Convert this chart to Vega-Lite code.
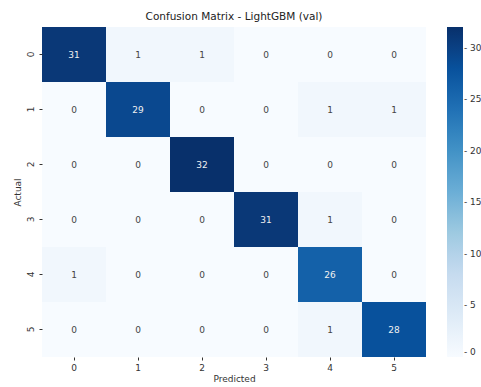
{
  "$schema": "https://vega.github.io/schema/vega-lite/v6.json",
  "autosize": "none",
  "padding": {"left": 42, "top": 27, "right": 55, "bottom": 30},
  "width": 384,
  "height": 330,
  "background": "white",
  "config": {
    "font": "DejaVu Sans",
    "view": {"stroke": null},
    "axis": {"grid": false, "domain": false, "tickSize": 3, "tickColor": "#333", "labelColor": "#333", "labelFontSize": 9, "titleFontSize": 9, "titleFontWeight": "normal", "titleColor": "#333"}
  },
  "title": {"text": "Confusion Matrix - LightGBM (val)", "fontSize": 10.5, "fontWeight": "normal", "color": "#222", "offset": 5},
  "data": {
    "values": [
      {"actual": "0", "predicted": "0", "count": 31},
      {"actual": "0", "predicted": "1", "count": 1},
      {"actual": "0", "predicted": "2", "count": 1},
      {"actual": "0", "predicted": "3", "count": 0},
      {"actual": "0", "predicted": "4", "count": 0},
      {"actual": "0", "predicted": "5", "count": 0},
      {"actual": "1", "predicted": "0", "count": 0},
      {"actual": "1", "predicted": "1", "count": 29},
      {"actual": "1", "predicted": "2", "count": 0},
      {"actual": "1", "predicted": "3", "count": 0},
      {"actual": "1", "predicted": "4", "count": 1},
      {"actual": "1", "predicted": "5", "count": 1},
      {"actual": "2", "predicted": "0", "count": 0},
      {"actual": "2", "predicted": "1", "count": 0},
      {"actual": "2", "predicted": "2", "count": 32},
      {"actual": "2", "predicted": "3", "count": 0},
      {"actual": "2", "predicted": "4", "count": 0},
      {"actual": "2", "predicted": "5", "count": 0},
      {"actual": "3", "predicted": "0", "count": 0},
      {"actual": "3", "predicted": "1", "count": 0},
      {"actual": "3", "predicted": "2", "count": 0},
      {"actual": "3", "predicted": "3", "count": 31},
      {"actual": "3", "predicted": "4", "count": 1},
      {"actual": "3", "predicted": "5", "count": 0},
      {"actual": "4", "predicted": "0", "count": 1},
      {"actual": "4", "predicted": "1", "count": 0},
      {"actual": "4", "predicted": "2", "count": 0},
      {"actual": "4", "predicted": "3", "count": 0},
      {"actual": "4", "predicted": "4", "count": 26},
      {"actual": "4", "predicted": "5", "count": 0},
      {"actual": "5", "predicted": "0", "count": 0},
      {"actual": "5", "predicted": "1", "count": 0},
      {"actual": "5", "predicted": "2", "count": 0},
      {"actual": "5", "predicted": "3", "count": 0},
      {"actual": "5", "predicted": "4", "count": 1},
      {"actual": "5", "predicted": "5", "count": 28}
    ]
  },
  "encoding": {
    "x": {"field": "predicted", "type": "ordinal", "title": "Predicted", "scale": {"paddingInner": 0, "paddingOuter": 0},
      "axis": {"labelAngle": 0, "titlePadding": 2, "labelPadding": 3}},
    "y": {"field": "actual", "type": "ordinal", "title": "Actual", "scale": {"paddingInner": 0, "paddingOuter": 0},
      "axis": {"labelAngle": -90, "labelAlign": "center", "labelBaseline": "bottom", "labelPadding": 4, "titlePadding": 4}}
  },
  "layer": [
    {
      "mark": {"type": "rect"},
      "encoding": {
        "color": {
          "field": "count", "type": "quantitative",
          "scale": {
            "domain": [0, 4, 8, 12, 16, 20, 24, 28, 32],
            "range": ["#f7fbff", "#deebf7", "#c6dbef", "#9ecae1", "#6baed6", "#4292c6", "#2171b5", "#08519c", "#08306b"]
          },
          "legend": {
            "title": null, "orient": "right", "offset": 21, "gradientLength": 330, "gradientThickness": 16,
            "gradientStrokeWidth": 0, "values": [0, 5, 10, 15, 20, 25, 30], "labelFontSize": 9, "labelColor": "#333",
            "direction": "vertical", "labelOffset": 1, "labelExpr": "'- ' + datum.label"
          }
        }
      }
    },
    {
      "mark": {"type": "text", "fontSize": 9},
      "encoding": {
        "text": {"field": "count", "type": "quantitative"},
        "color": {
          "condition": {"test": "datum.count > 16", "value": "#f0f0f0"},
          "value": "#444"
        }
      }
    }
  ]
}
